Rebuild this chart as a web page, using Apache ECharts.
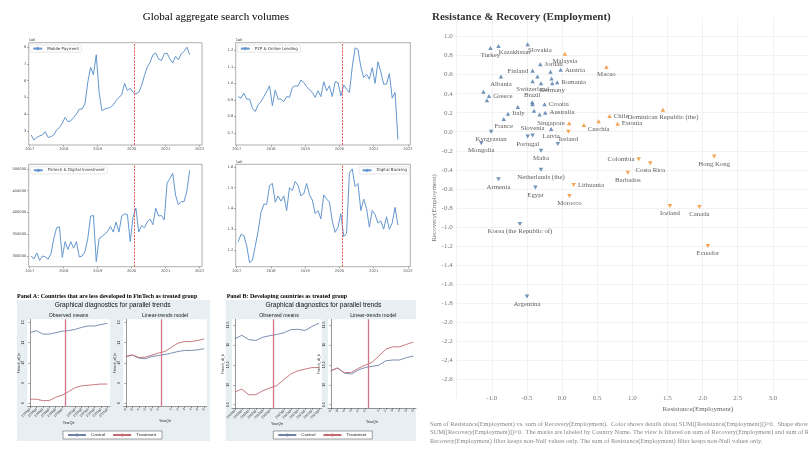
<!DOCTYPE html>
<html><head><meta charset="utf-8">
<script src="https://cdn.jsdelivr.net/npm/echarts@6/dist/echarts.min.js"></script>
<style>html,body{margin:0;padding:0;background:#fff}#c{width:808px;height:455px}</style>
</head><body><div id="c"></div>
<script>
// ---------- Global aggregate search volumes (monthly, Jan 2017 - Sep 2021) ----------
const startYear = 2017;
const treatDate = 2020.08;
const yearTicks = [2017, 2018, 2019, 2020, 2021, 2022];
const mobilePayment = [2.75,2.45,2.6,2.7,2.75,2.95,2.6,2.65,2.75,3.05,3.2,3.45,3.8,3.55,3.6,3.8,4.0,4.3,4.3,4.6,5.9,6.8,6.35,7.55,5.3,4.2,4.3,4.35,4.4,4.55,4.8,5.0,5.15,5.85,5.4,5.55,5.3,5.2,5.3,5.7,6.3,6.8,7.1,7.55,7.65,7.3,7.2,7.6,7.65,7.3,7.05,7.45,7.25,7.6,7.75,8.0,7.55];
const p2pLending = [0.92,0.91,0.94,0.905,0.905,0.85,0.83,0.87,0.89,0.92,0.95,0.985,0.865,0.96,0.905,0.905,0.89,0.92,0.915,0.975,0.985,0.985,1.02,1.005,0.98,0.96,0.945,0.915,0.955,0.92,1.01,0.955,0.985,0.92,1.01,1.005,0.925,0.99,0.965,0.945,1.1,1.215,1.205,1.1,1.035,1.055,1.025,1.095,1.0,1.13,1.07,0.995,0.995,1.06,0.91,0.945,0.66];
const fintechInvestment = [300000,293000,307000,290000,300000,298000,293000,305000,340000,365000,367000,297000,333000,315000,333000,318000,333000,298000,300000,310000,340000,392000,393000,287000,340000,345000,350000,357000,368000,355000,378000,355000,392000,397000,395000,333000,390000,410000,355000,370000,365000,378000,385000,372000,410000,392000,393000,383000,467000,478000,490000,440000,418000,425000,425000,450000,497000];
const digitalBanking = [1.24,1.275,1.27,1.22,1.14,1.15,1.22,1.29,1.38,1.42,1.42,1.51,1.52,1.43,1.46,1.435,1.46,1.39,1.5,1.485,1.53,1.51,1.46,1.47,1.52,1.465,1.44,1.375,1.39,1.35,1.465,1.445,1.43,1.34,1.285,1.31,1.375,1.265,1.28,1.57,1.59,1.505,1.52,1.39,1.445,1.4,1.31,1.39,1.37,1.33,1.34,1.30,1.36,1.30,1.33,1.405,1.32];
const mobileTicks = [3,4,5,6,7,8];
const p2pTicks = [0.7,0.8,0.9,1.0,1.1,1.2];
const fintechTicks = [300000,350000,400000,450000,500000];
const bankingTicks = [1.2,1.3,1.4,1.5,1.6];

// ---------- Parallel-trends diagnostics ----------
const quarterLabels = ['2018q3','2018q4','2019q1','2019q2','2019q3','2019q4','2020q1','2020q2','2020q3','2020q4','2021q1','2021q2','2021q3'];
const periodLabels = ['-6','-5','-4','-3','-2','-1','0','1','2','3','4','5','6'];
const treatIndex = 5.5;
const aObsControl = [11.49,11.59,11.42,11.42,11.49,11.56,11.59,11.65,11.75,11.82,11.82,11.89,11.95];
const aObsTreatment = [8.2,8.2,8.13,8.13,8.3,8.4,8.58,8.77,8.86,8.89,8.92,8.95,8.95];
const aLinControl = [10.31,10.38,10.23,10.2,10.31,10.36,10.41,10.48,10.56,10.61,10.61,10.64,10.7];
const aLinTreatment = [10.31,10.39,10.26,10.28,10.38,10.48,10.56,10.77,10.97,11.05,11.05,11.1,11.18];
const bObsControl = [11.15,11.24,11.13,11.11,11.19,11.23,11.26,11.3,11.38,11.39,11.36,11.46,11.54];
const bObsTreatment = [9.82,9.89,9.75,9.75,9.85,9.92,9.98,10.13,10.27,10.35,10.39,10.43,10.43];
const bLinControl = [10.35,10.42,10.29,10.27,10.37,10.43,10.46,10.49,10.6,10.62,10.62,10.68,10.72];
const bLinTreatment = [10.35,10.42,10.3,10.31,10.41,10.49,10.56,10.72,10.89,10.95,10.95,11.01,11.07];
const aTicks = [8,9,10,11,12];
const bTicks = [9.5,10,10.5,11,11.5];

// ---------- Resistance & Recovery (Employment) ----------
const countries = ['Turkey','Kazakhstan','Slovakia','Jordan','Finland','Austria','','Albania','','Switzerland','','','Germany','Romania','Greece','','','Brazil','','Croatia','','Italy','','Australia','','France','Kyrgyzstan','Latvia','Slovenia','Portugal','','Mongolia','Malta','Netherlands (the)','Armenia','Egypt','Korea (the Republic of)','Argentina','Malaysia','Macao','Singapore','','Czechia','Ireland','Chile','Dominican Republic (the)','Estonia','Colombia','Costa Rica','Hong Kong','Barbados','Lithuania','Morocco','Iceland','Canada','Ecuador'];
const resistance = [-1.02,-0.905,-0.49,-0.31,-0.42,-0.02,-0.165,-0.87,-0.35,-0.42,-0.30,-0.15,-0.14,-0.07,-1.04,-1.12,-1.07,-0.425,-0.42,-0.25,-0.63,-0.77,-0.40,-0.24,-0.32,-0.83,-1.01,-0.155,-0.42,-0.49,-0.06,-1.15,-0.30,-0.30,-0.905,-0.38,-0.60,-0.50,0.04,0.63,0.10,0.31,0.52,0.09,0.675,1.435,0.79,1.09,1.255,2.165,0.935,0.165,0.105,1.535,1.955,2.075];
const recovery = [0.88,0.90,0.92,0.71,0.64,0.65,0.63,0.58,0.58,0.53,0.51,0.56,0.51,0.52,0.375,0.42,0.33,0.31,0.29,0.29,0.26,0.19,0.22,0.20,0.18,0.135,0.0,0.03,-0.04,-0.05,-0.13,-0.12,-0.20,-0.40,-0.50,-0.585,-0.97,-1.73,0.82,0.68,0.09,0.07,0.11,0.0,0.165,0.23,0.085,-0.29,-0.33,-0.26,-0.43,-0.56,-0.675,-0.78,-0.79,-1.20];
const captionLines = [
  'Sum of Resistance(Employment) vs. sum of Recovery(Employment).  Color shows details about SUM([Resistance(Employment)])>0.  Shape shows details about',
  'SUM([Recovery(Employment)])>0.  The marks are labeled by Country Name. The view is filtered on sum of Recovery(Employment) and sum of Resistance(Employment). The sum of',
  'Recovery(Employment) filter keeps non-Null values only. The sum of Resistance(Employment) filter keeps non-Null values only.'
];

// label placement style (not data)
const labelPlace = {
  'Kazakhstan':'br','Slovakia':'br',
  'Jordan':'right','Austria':'right','Romania':'right','Greece':'right','Croatia':'right','Italy':'right','Australia':'right','Chile':'right','Estonia':'right','Lithuania':'right',
  'Finland':'left','Singapore':'left','Colombia':'left',
  'Brazil':'top','Slovenia':'top'
};

const chart = echarts.init(document.getElementById('c'), null, {renderer:'canvas'});
const grids = [], xAxes = [], yAxes = [], series = [], legends = [], graphics = [];
const MPL = '"DejaVu Sans", sans-serif';
const SERIF = '"Liberation Serif", "DejaVu Serif", serif';
const SANS = '"Liberation Sans", Arial, sans-serif';

function txt(x, y, text, o) {
  o = o || {};
  graphics.push({type:'text', x:x, y:y, z:o.z || 10, silent:true, style:{
    text:text, fill:o.color || '#000', fontSize:o.size || 6, fontFamily:o.family || SERIF,
    fontWeight:o.weight || 'normal', align:o.align || 'left', textAlign:o.align || 'left',
    verticalAlign:'middle', textVerticalAlign:'middle'}});
}

// ---------- matplotlib-like panels ----------
const tsPanels = [
  {name:'Mobile Payment', values:mobilePayment, ticks:mobileTicks, yr:[2.15,8.27], g:{left:28.7,top:42.7,width:173.3,height:102.3}, lg:{left:29.7,top:45}, sci:[28.7,40.2], fmt:v=>String(v)},
  {name:'P2P & Online Lending', values:p2pLending, ticks:p2pTicks, yr:[0.627,1.246], g:{left:235.7,top:42.7,width:174.6,height:102.3}, lg:{left:237.3,top:45}, sci:[235.7,40.2], fmt:v=>v.toFixed(1)},
  {name:'Fintech & Digital Investment', values:fintechInvestment, ticks:fintechTicks, yr:[275400,510800], g:{left:28.7,top:164.3,width:173.3,height:102.4}, lg:{left:30.3,top:166.7}, sci:null, fmt:v=>String(v)},
  {name:'Digital Banking', values:digitalBanking, ticks:bankingTicks, yr:[1.12,1.612], g:{left:235.7,top:164.3,width:174.6,height:102.4}, lg:{right:398.5,top:166.7}, sci:[235.7,162], fmt:v=>v.toFixed(1)}
];
tsPanels.forEach((p) => {
  const k = grids.length;
  grids.push(Object.assign({show:true, borderColor:'#7a7a7a', borderWidth:0.6, backgroundColor:'#fff'}, p.g));
  xAxes.push({gridIndex:k, type:'value', min:2016.97, max:2022.07,
    axisLine:{show:false}, splitLine:{show:false},
    axisTick:{show:true, length:1.6, customValues:yearTicks, lineStyle:{color:'#555', width:0.5}},
    axisLabel:{customValues:yearTicks, fontSize:3.6, color:'#444', margin:2.5, fontFamily:MPL, formatter:v=>String(Math.round(v))}});
  yAxes.push({gridIndex:k, type:'value', min:p.yr[0], max:p.yr[1],
    axisLine:{show:false}, splitLine:{show:false},
    axisTick:{show:true, length:1.6, customValues:p.ticks, lineStyle:{color:'#555', width:0.5}},
    axisLabel:{customValues:p.ticks, fontSize:3.6, color:'#444', margin:2.5, fontFamily:MPL, formatter:p.fmt}});
  series.push({type:'line', name:p.name, xAxisIndex:k, yAxisIndex:k, symbol:'none', showSymbol:false,
    data:p.values.map((v,i)=>[startYear + (i+0.5)/12, v]),
    lineStyle:{color:'#6497cf', width:1}, itemStyle:{color:'#6497cf'}, animation:false,
    markLine:{silent:true, symbol:['none','none'], label:{show:false},
      lineStyle:{color:'#e8413c', type:[2,1.3], width:0.9}, data:[{xAxis:treatDate}]}});
  legends.push(Object.assign({data:[p.name], orient:'horizontal', itemWidth:9, itemHeight:4,
    padding:[1.6,2.5,1.6,2.5], backgroundColor:'#fff', borderColor:'#d0d0d0', borderWidth:0.5, borderRadius:1.5,
    textStyle:{fontSize:4, color:'#333', fontFamily:MPL}, selectedMode:false}, p.lg));
  if (p.sci) txt(p.sci[0], p.sci[1], '1e6', {size:3.5, family:MPL, color:'#444'});
});

// ---------- Stata-like panels ----------
const stataPanels = [
  {header:'Panel A: Countries that are less developed in FinTech as treated group', hx:17, bg:[17,300,193,141], tx:112.7,
   ticks:aTicks, yr:[7.83,12.15],
   obs:{g:{left:27.3,top:319.3,width:82.7,height:87.4}, c:aObsControl, t:aObsTreatment, tx:68.5},
   lin:{g:{left:123.3,top:319.3,width:83.4,height:87.4}, c:aLinControl, t:aLinTreatment, tx:165},
   legend:{left:63,top:431}},
  {header:'Panel B: Developing countries as treated group', hx:226.7, bg:[225.7,300,190.3,141], tx:323.3,
   ticks:bTicks, yr:[9.41,11.64],
   obs:{g:{left:232,top:319.3,width:89.7,height:89}, c:bObsControl, t:bObsTreatment, tx:279},
   lin:{g:{left:328,top:319.3,width:88,height:89}, c:bLinControl, t:bLinTreatment, tx:373.3},
   legend:{left:273.3,top:431}}
];
const CTRL = '#6e82a8', TREAT = '#c26a72';
stataPanels.forEach((sp) => {
  graphics.push({type:'rect', z:-10, silent:true, shape:{x:sp.bg[0], y:sp.bg[1], width:sp.bg[2], height:sp.bg[3]}, style:{fill:'#e8eff3'}});
  txt(sp.hx, 296.5, sp.header, {size:6, weight:'bold', family:SERIF});
  txt(sp.tx, 305.5, 'Graphical diagnostics for parallel trends', {size:6.6, family:SANS, align:'center', color:'#111'});
  [['obs','Observed means', quarterLabels],['lin','Linear-trends model', periodLabels]].forEach(([key, title, labels]) => {
    const sub = sp[key];
    const k = grids.length;
    grids.push(Object.assign({show:true, backgroundColor:'#fff', borderWidth:0}, sub.g));
    txt(sub.tx, 315.5, title, {size:5.2, family:SANS, align:'center', color:'#222'});
    const idx = labels.map((_,i)=>i).filter(i=>i!==6);
    xAxes.push({gridIndex:k, type:'value', min:-0.4, max:12.4,
      axisLine:{show:true, lineStyle:{color:'#333', width:0.5}}, splitLine:{show:false},
      axisTick:{show:true, length:1.5, customValues:idx, lineStyle:{color:'#333', width:0.5}},
      axisLabel:{customValues:idx, rotate:45, fontSize:3.3, color:'#222', margin:2, fontFamily:SANS, formatter:v=>labels[Math.round(v)]},
      name:'YearQtr', nameLocation:'middle', nameGap:12, nameTextStyle:{fontSize:3.5, color:'#222', fontFamily:SANS}});
    yAxes.push({gridIndex:k, type:'value', min:sp.yr[0], max:sp.yr[1],
      axisLine:{show:true, lineStyle:{color:'#333', width:0.5}}, splitLine:{show:false},
      axisTick:{show:true, length:1.5, customValues:sp.ticks, lineStyle:{color:'#333', width:0.5}},
      axisLabel:{customValues:sp.ticks, rotate:90, fontSize:3.5, color:'#222', margin:2, fontFamily:SANS, formatter:v=>String(v)},
      name:'Fintech_all_ln', nameLocation:'middle', nameGap:7, nameRotate:90, nameTextStyle:{fontSize:3.3, color:'#222', fontFamily:SANS}});
    series.push({type:'line', name:'Control', xAxisIndex:k, yAxisIndex:k, symbol:'none', animation:false, z:3,
      data:sub.c.map((v,i)=>[i,v]), lineStyle:{color:CTRL, width:0.9}, itemStyle:{color:CTRL},
      markLine:{silent:true, symbol:['none','none'], label:{show:false}, lineStyle:{color:'#cf7488', type:'solid', width:1.3, opacity:1}, data:[{xAxis:treatIndex}]}});
    series.push({type:'line', name:'Treatment', xAxisIndex:k, yAxisIndex:k, symbol:'none', animation:false, z:3,
      data:sub.t.map((v,i)=>[i,v]), lineStyle:{color:TREAT, width:0.9}, itemStyle:{color:TREAT}});
  });
  legends.push(Object.assign({data:['Control','Treatment'], orient:'horizontal', itemWidth:18, itemHeight:4, itemGap:7,
    padding:[2,6,2,4], backgroundColor:'#fff', borderColor:'#444', borderWidth:0.5, borderRadius:0,
    textStyle:{fontSize:4.4, color:'#222', fontFamily:SANS}, selectedMode:false}, sp.legend));
});

// ---------- Tableau-like scatter ----------
const sk = grids.length;
grids.push({left:456.7, top:17.5, width:362.5, height:380.8, show:false});
xAxes.push({gridIndex:sk, type:'value', min:-1.5, max:3.5, interval:0.5, offset:-8,
  axisLine:{show:false}, axisTick:{show:false},
  splitLine:{show:true, showMinLine:true, showMaxLine:false, lineStyle:{color:'#ececec', width:0.7}},
  axisLabel:{showMinLabel:false, showMaxLabel:false, fontSize:7, color:'#777', margin:4, fontFamily:SERIF, formatter:v=>v.toFixed(1)}});
yAxes.push({gridIndex:sk, type:'value', min:-2.8, max:1.2, interval:0.2,
  axisLine:{show:false}, axisTick:{show:false},
  splitLine:{show:true, showMinLine:false, showMaxLine:false, lineStyle:{color:'#ececec', width:0.7}},
  axisLabel:{showMinLabel:false, showMaxLabel:false, fontSize:7, color:'#777', margin:4, fontFamily:SERIF, formatter:v=>v.toFixed(1)},
  name:'Recovery(Employment)', nameLocation:'middle', nameRotate:90, nameGap:16, nameTextStyle:{fontSize:7, color:'#777', fontFamily:SERIF}});
const scatterData = countries.map((name, i) => {
  const up = recovery[i] > 0, warm = resistance[i] > 0;
  const pl = labelPlace[name] || 'bottom';
  let label;
  if (pl === 'br') label = {position:[2.5, 5], align:'left', verticalAlign:'top'};
  else label = {position:pl, distance:2};
  return {name:name, value:[resistance[i], recovery[i]], symbol:'triangle', symbolRotate: up ? 0 : 180,
    itemStyle:{color: warm ? '#f28e2b' : '#4e79a7'}, label:label};
});
series.push({type:'scatter', xAxisIndex:sk, yAxisIndex:sk, symbolSize:[4.5,4], animation:false, data:scatterData,
  label:{show:true, formatter:p=>p.name, fontSize:6.8, color:'#333', fontFamily:SERIF}});

// ---------- texts ----------
txt(216, 17, 'Global aggregate search volumes', {size:11, family:SERIF, align:'center'});
txt(432, 17.5, 'Resistance & Recovery (Employment)', {size:11, weight:'bold', family:SERIF, color:'#333'});
txt(698, 409.5, 'Resistance(Employment)', {size:7, family:SERIF, align:'center', color:'#666'});
captionLines.forEach((line, i) => txt(430, 424.5 + i*8.3, line, {size:6.4, family:SERIF, color:'#888'}));

chart.setOption({
  animation:false,
  backgroundColor:'#fff',
  grid:grids, xAxis:xAxes, yAxis:yAxes, series:series, legend:legends,
  graphic:{elements:graphics}
});
</script></body></html>
